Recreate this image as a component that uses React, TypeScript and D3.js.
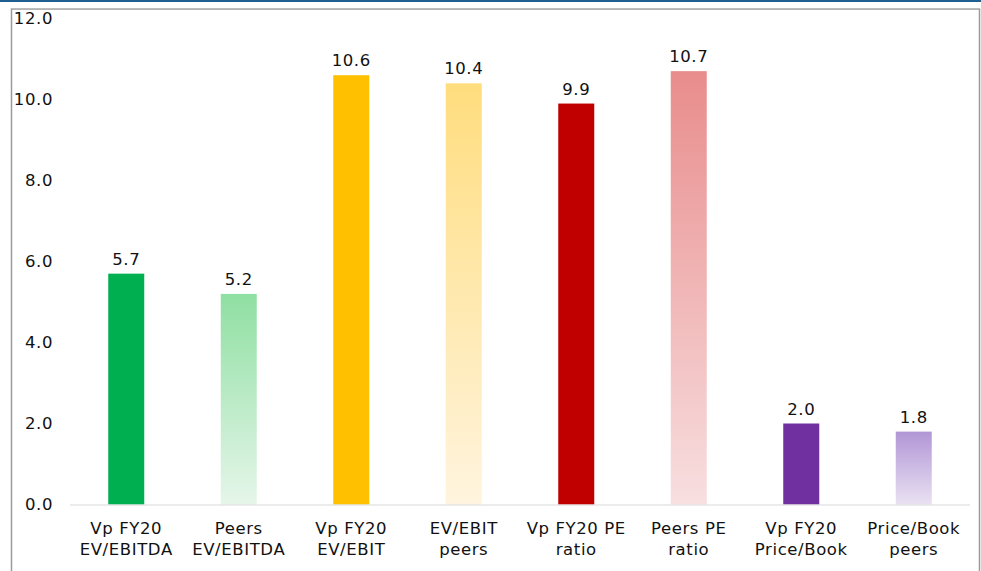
import React from "react";
import * as d3 from "d3";

const categories: string[][] = [
  ["Vp FY20", "EV/EBITDA"],
  ["Peers", "EV/EBITDA"],
  ["Vp FY20", "EV/EBIT"],
  ["EV/EBIT", "peers"],
  ["Vp FY20 PE", "ratio"],
  ["Peers PE", "ratio"],
  ["Vp FY20", "Price/Book"],
  ["Price/Book", "peers"],
];
const values: number[] = [5.7, 5.2, 10.6, 10.4, 9.9, 10.7, 2.0, 1.8];
const yTicks: number[] = [0, 2, 4, 6, 8, 10, 12];
// solid fill, or [top, bottom] gradient stops for the peer bars
const fills: (string | [string, string])[] = [
  "#00B050",
  ["#8FDFA2", "#E6F6EA"],
  "#FFC000",
  ["#FFDD7E", "#FFF4DE"],
  "#C00000",
  ["#E98C8C", "#F8DFE0"],
  "#7030A0",
  ["#B296D6", "#E9E1F2"],
];

const W = 981;
const H = 571;
const FONT = "Verdana, 'DejaVu Sans', sans-serif";
const FS = 16.5;
const LS = 0.6;

export default function App() {
  const x = d3
    .scaleBand<number>()
    .domain(values.map((_, i) => i))
    .range([70, 970])
    .paddingInner(0.68)
    .paddingOuter(0.34);
  const y = d3.scaleLinear().domain([0, 12]).range([504.5, 18.5]);
  const cx = (i: number) => (x(i) as number) + x.bandwidth() / 2;

  return (
    <svg
      width={W}
      height={H}
      style={{ position: "absolute", left: 0, top: 0, background: "#fff" }}
    >
      <defs>
        {fills.map((f, i) =>
          Array.isArray(f) ? (
            <linearGradient key={i} id={`g${i}`} x1="0" y1="0" x2="0" y2="1">
              <stop offset="0" stopColor={f[0]} />
              <stop offset="1" stopColor={f[1]} />
            </linearGradient>
          ) : null
        )}
      </defs>
      {/* header rule and chart frame */}
      <rect x={0} y={0} width={W} height={2} fill="#1F5F91" />
      <rect
        x={11.5}
        y={9}
        width={968}
        height={H}
        fill="none"
        stroke="#9a9a9a"
        strokeWidth={1.5}
      />
      <line x1={11.5} x2={980} y1={8.5} y2={8.5} stroke="#bdbdbd" strokeWidth={1} />

      {/* y axis labels */}
      {yTicks.map((t) => (
        <text
          key={t}
          x={53}
          y={y(t)}
          dy="0.36em"
          textAnchor="end"
          fontFamily={FONT}
          fontSize={FS}
          letterSpacing={LS}
          fill="#111"
        >
          {t.toFixed(1)}
        </text>
      ))}

      {/* bars */}
      {values.map((v, i) => (
        <rect
          key={i}
          x={x(i)}
          y={y(v)}
          width={x.bandwidth()}
          height={y(0) - y(v)}
          fill={Array.isArray(fills[i]) ? `url(#g${i})` : (fills[i] as string)}
        />
      ))}

      {/* baseline */}
      <line x1={70} x2={970} y1={y(0) + 0.5} y2={y(0) + 0.5} stroke="#d9d9d9" strokeWidth={1} />

      {/* value labels */}
      {values.map((v, i) => (
        <text
          key={i}
          x={cx(i)}
          y={y(v) - 9}
          textAnchor="middle"
          fontFamily={FONT}
          fontSize={FS}
          letterSpacing={LS}
          fill="#111"
        >
          {v.toFixed(1)}
        </text>
      ))}

      {/* category labels */}
      {categories.map((lines, i) => (
        <text
          key={i}
          x={cx(i)}
          y={534}
          textAnchor="middle"
          fontFamily={FONT}
          fontSize={FS}
          letterSpacing={LS}
          fill="#111"
        >
          {lines.map((l, j) => (
            <tspan key={j} x={cx(i)} dy={j === 0 ? 0 : 21}>
              {l}
            </tspan>
          ))}
        </text>
      ))}
    </svg>
  );
}
